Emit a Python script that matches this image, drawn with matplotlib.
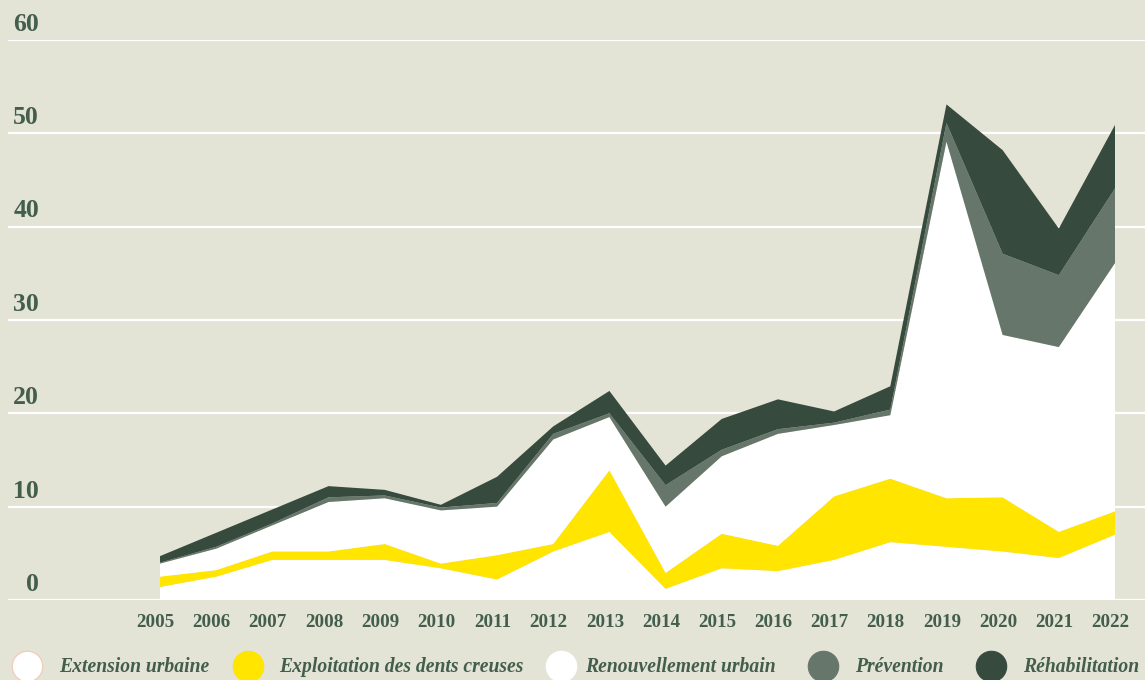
import matplotlib
matplotlib.use("Agg")
import matplotlib.pyplot as plt
import matplotlib.transforms as mtransforms

# ---- data ----
years = list(range(2005, 2023))
extension = [1.4, 2.5, 4.3, 4.3, 4.3, 3.4, 2.2, 5.2, 7.3, 1.2, 3.4, 3.1, 4.3, 6.2, 5.7, 5.2, 4.5, 7.0]
exploitation = [1.1, 0.7, 0.9, 0.9, 1.7, 0.5, 2.6, 0.8, 6.6, 1.7, 3.7, 2.7, 6.8, 6.8, 5.2, 5.8, 2.8, 2.5]
renouvellement = [1.4, 2.3, 2.8, 5.3, 4.9, 5.7, 5.2, 11.2, 5.7, 7.1, 8.3, 12.0, 7.65, 6.8, 38.2, 17.4, 19.8, 26.6]
prevention = [0.1, 0.2, 0.2, 0.5, 0.3, 0.3, 0.4, 0.6, 0.4, 2.3, 0.7, 0.5, 0.25, 0.6, 2.0, 8.7, 7.7, 8.0]
rehabilitation = [0.7, 1.5, 1.5, 1.2, 0.6, 0.3, 2.8, 0.8, 2.4, 2.1, 3.3, 3.2, 1.2, 2.5, 2.0, 11.1, 5.0, 6.8]
series_names = ["Extension urbaine", "Exploitation des dents creuses",
                "Renouvellement urbain", "Prévention", "Réhabilitation"]
y_ticks = [0, 10, 20, 30, 40, 50, 60]

# ---- style ----
BG = "#e3e3d6"
TXT = "#435e4c"
colors = ["#ffffff", "#ffe500", "#ffffff", "#66766a", "#364a3e"]
edge_colors = ["#f2c9b4", "#ffe500", "#ffffff", "#66766a", "#364a3e"]
SERIF = ["Liberation Serif", "DejaVu Serif"]

W, H = 1145, 680
fig = plt.figure(figsize=(W / 100, H / 100), dpi=100, facecolor=BG)

# axes in pixel layout
left_px, right_px, top_px, bottom_px = 8, 1145, 40, 600
ax = fig.add_axes([left_px / W, (H - bottom_px) / H,
                   (right_px - left_px) / W, (bottom_px - top_px) / H])
ax.set_facecolor(BG)

step = (1115 - 160) / 17.0
ax.set_xlim(2005 - (160 - left_px) / step, 2022 + (right_px - 1115) / step)
ax.set_ylim(0, 60)

for v in y_ticks:
    ax.axhline(v, color="white", lw=1.6, zorder=1)

ax.stackplot(years, extension, exploitation, renouvellement, prevention, rehabilitation,
             colors=colors, linewidth=0, zorder=2)

for s in ax.spines.values():
    s.set_visible(False)
ax.set_yticks([])
ax.set_xticks(years)
ax.set_xticklabels([str(y) for y in years], fontfamily=SERIF, fontweight="bold",
                   fontsize=13.7, color=TXT)
ax.tick_params(axis="x", length=0, pad=10)
shift = mtransforms.ScaledTranslation(-4.5 / 100, 0, fig.dpi_scale_trans)
for lab in ax.get_xticklabels():
    lab.set_transform(lab.get_transform() + shift)

# y labels above gridlines
xlab = (39 - left_px) / (right_px - left_px)
for v in y_ticks:
    ax.annotate(str(v), xy=(xlab, v), xycoords=ax.get_yaxis_transform(),
                xytext=(0, 3), textcoords="offset points",
                ha="right", va="bottom", fontfamily=SERIF, fontweight="bold",
                fontsize=18.5, color=TXT, annotation_clip=False)

# legend overlay
lax = fig.add_axes([0, 0, 1, 1], facecolor="none")
lax.set_xlim(0, W)
lax.set_ylim(H, 0)
lax.axis("off")
circle_x = [27, 248, 561, 823, 991]
text_x = [59, 279, 585, 855, 1023]
leg_y = 666
for name, c, ec, cx, tx in zip(series_names, colors, edge_colors, circle_x, text_x):
    lax.scatter([cx], [leg_y], s=480, color=c, edgecolors=ec, linewidths=0.8, zorder=3,
                clip_on=False)
    lax.text(tx, leg_y + 1, name, ha="left", va="center", fontfamily=SERIF,
             fontweight="bold", fontstyle="italic", fontsize=14.1, color=TXT)

fig.savefig("out.png", dpi=100, facecolor=BG)
